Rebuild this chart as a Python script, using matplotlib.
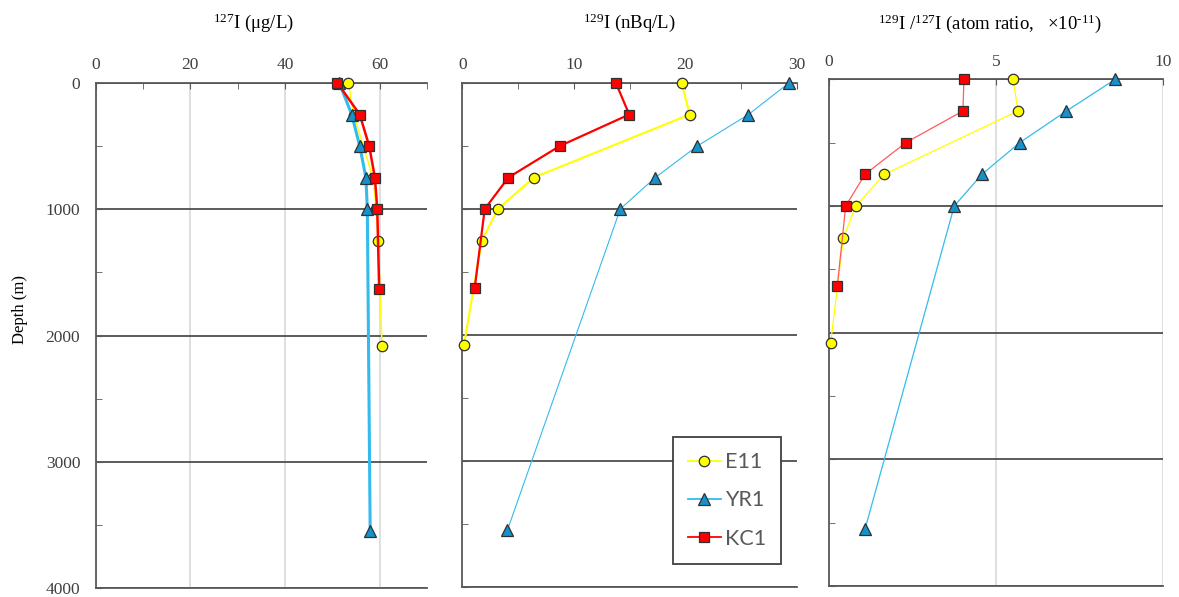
import matplotlib
matplotlib.use("Agg")
import matplotlib.pyplot as plt
from matplotlib.lines import Line2D
from matplotlib.ticker import MultipleLocator

plt.rcParams['mathtext.fontset'] = 'custom'
plt.rcParams['mathtext.rm'] = 'Liberation Serif'
plt.rcParams['mathtext.it'] = 'Liberation Serif:italic'
plt.rcParams['font.family'] = ['Liberation Serif', 'DejaVu Sans']

# ---------------- data ----------------
series = ["E11", "YR1", "KC1"]

e11_depth = [0, 250, 750, 1000, 1250, 2080]
e11_i127 = [53.4, 54.5, 58.6, 59.3, 59.7, 60.5]
e11_i129 = [19.66, 20.38, 6.41, 3.2, 1.74, 0.15]
e11_ratio = [5.51, 5.66, 1.66, 0.80, 0.43, 0.05]

yr1_depth = [0, 250, 500, 750, 1000, 3550]
yr1_i127 = [51.5, 54.1, 55.8, 57.1, 57.4, 58.0]
yr1_i129 = [29.27, 25.65, 21.07, 17.3, 14.16, 4.04]
yr1_ratio = [8.57, 7.11, 5.71, 4.58, 3.75, 1.08]

kc1_depth = [0, 250, 500, 750, 1000, 1630]
kc1_i127 = [51.1, 55.8, 57.8, 59.0, 59.5, 59.9]
kc1_i129 = [13.77, 14.96, 8.74, 4.13, 2.01, 1.11]
kc1_ratio = [4.04, 4.01, 2.30, 1.08, 0.50, 0.25]

titles = [r"$^{127}$I (μg/L)", r"$^{129}$I (nBq/L)",
          r"$^{129}$I /$^{127}$I (atom ratio,   ×10$^{\text{-11}}$)"]
depth_ticks = [0, 1000, 2000, 3000, 4000]

# ---------------- styles ----------------
W, H = 1179, 597
YEL, YEL_F = "#FFFF00", "#FFFF00"
BLU, BLU_F = "#33BBEE", "#1591CC"
RED, RED_F = "#FF0000", "#FF0000"
EDGE = "#303030"
SPINE = "#595959"
TICKC = "#404040"

fig = plt.figure(figsize=(W / 100, H / 100), dpi=100)

def add_axes(x0, x1, ytop, ybot):
    return fig.add_axes([x0 / W, 1 - ybot / H, (x1 - x0) / W, (ybot - ytop) / H])

ax1 = add_axes(95.5, 427, 83, 588)
ax2 = add_axes(462.3, 797, 83, 587)
ax3 = add_axes(829, 1163, 79.3, 586)

def style(ax, xmax, major, minor, vgrid, ylabels):
    ax.set_xlim(0, xmax)
    ax.set_ylim(4000, 0)
    ax.xaxis.set_major_locator(MultipleLocator(major))
    if minor:
        ax.xaxis.set_minor_locator(MultipleLocator(minor))
    ax.yaxis.set_major_locator(MultipleLocator(1000))
    ax.yaxis.set_minor_locator(MultipleLocator(500))
    ax.xaxis.tick_top()
    ax.spines['right'].set_visible(False)
    for s in ['top', 'left', 'bottom']:
        ax.spines[s].set_color(SPINE)
        ax.spines[s].set_linewidth(1.3)
    ax.tick_params(axis='x', which='both', direction='in', top=True, bottom=False,
                   color=SPINE, length=4, labelsize=12.5, labelcolor=TICKC, pad=7)
    ax.tick_params(axis='y', which='both', direction='in', left=True, right=False,
                   color=SPINE, length=4, labelsize=12.5, labelcolor=TICKC, pad=11,
                   labelleft=ylabels)
    ax.yaxis.grid(True, which='major', color="#404040", linewidth=1.2)
    if vgrid:
        ax.xaxis.grid(True, which='major', color="#D9D9D9", linewidth=1.2)
    ax.set_axisbelow(True)

style(ax1, 70, 20, 10, True, True)
style(ax2, 30, 10, 5, False, False)
style(ax3, 10, 5, None, True, False)
ax1.set_yticks(depth_ticks)

def plot_panel(ax, e, y, k, lw_e, lw_y, lw_k, red_line=RED):
    ax.plot(e, e11_depth, color=YEL, lw=lw_e, marker='o', ms=7.5, mfc=YEL_F,
            mec=EDGE, mew=0.9, clip_on=False, zorder=3)
    ax.plot(y, yr1_depth, color=BLU, lw=lw_y, marker='^', ms=8, mfc=BLU_F,
            mec=EDGE, mew=0.9, clip_on=False, zorder=4)
    ax.plot(k, kc1_depth, color=red_line, lw=lw_k, marker='s', ms=7, mfc=RED_F,
            mec=EDGE, mew=0.9, clip_on=False, zorder=5)

plot_panel(ax1, e11_i127, yr1_i127, kc1_i127, 1.1, 2.2, 1.8)
plot_panel(ax2, e11_i129, yr1_i129, kc1_i129, 1.5, 0.8, 1.6)
plot_panel(ax3, e11_ratio, yr1_ratio, kc1_ratio, 0.9, 0.9, 0.9, red_line="#FF5A5A")

# titles
fig.text(253 / W, 1 - 23 / H, titles[0], ha='center', va='center', fontsize=13.5)
fig.text(629 / W, 1 - 23 / H, titles[1], ha='center', va='center', fontsize=13.5)
fig.text(990 / W, 1 - 24 / H, titles[2], ha='center', va='center', fontsize=13.5)
fig.text(20 / W, 1 - 310 / H, "Depth (m)", rotation=90, ha='center', va='center',
         fontsize=12)

# legend
handles = [
    Line2D([], [], color=YEL, lw=1.3, marker='o', ms=7.5, mfc=YEL_F, mec=EDGE, mew=0.9),
    Line2D([], [], color=BLU, lw=1.3, marker='^', ms=8, mfc=BLU_F, mec=EDGE, mew=0.9),
    Line2D([], [], color=RED, lw=1.3, marker='s', ms=7, mfc=RED_F, mec=EDGE, mew=0.9),
]
leg = ax2.legend(handles, series, loc='upper left', bbox_to_anchor=(0.63, 0.2976),
                 borderaxespad=0, frameon=True, fancybox=False, framealpha=1,
                 edgecolor="#404040", handlelength=1.5, handletextpad=0.2,
                 labelspacing=0.85, borderpad=0.7, prop={'family': 'Lato', 'size': 15.5})
leg.get_frame().set_linewidth(1.3)
for t in leg.get_texts():
    t.set_color("#595959")
leg.set_zorder(10)

fig.savefig("out.png", dpi=100)
